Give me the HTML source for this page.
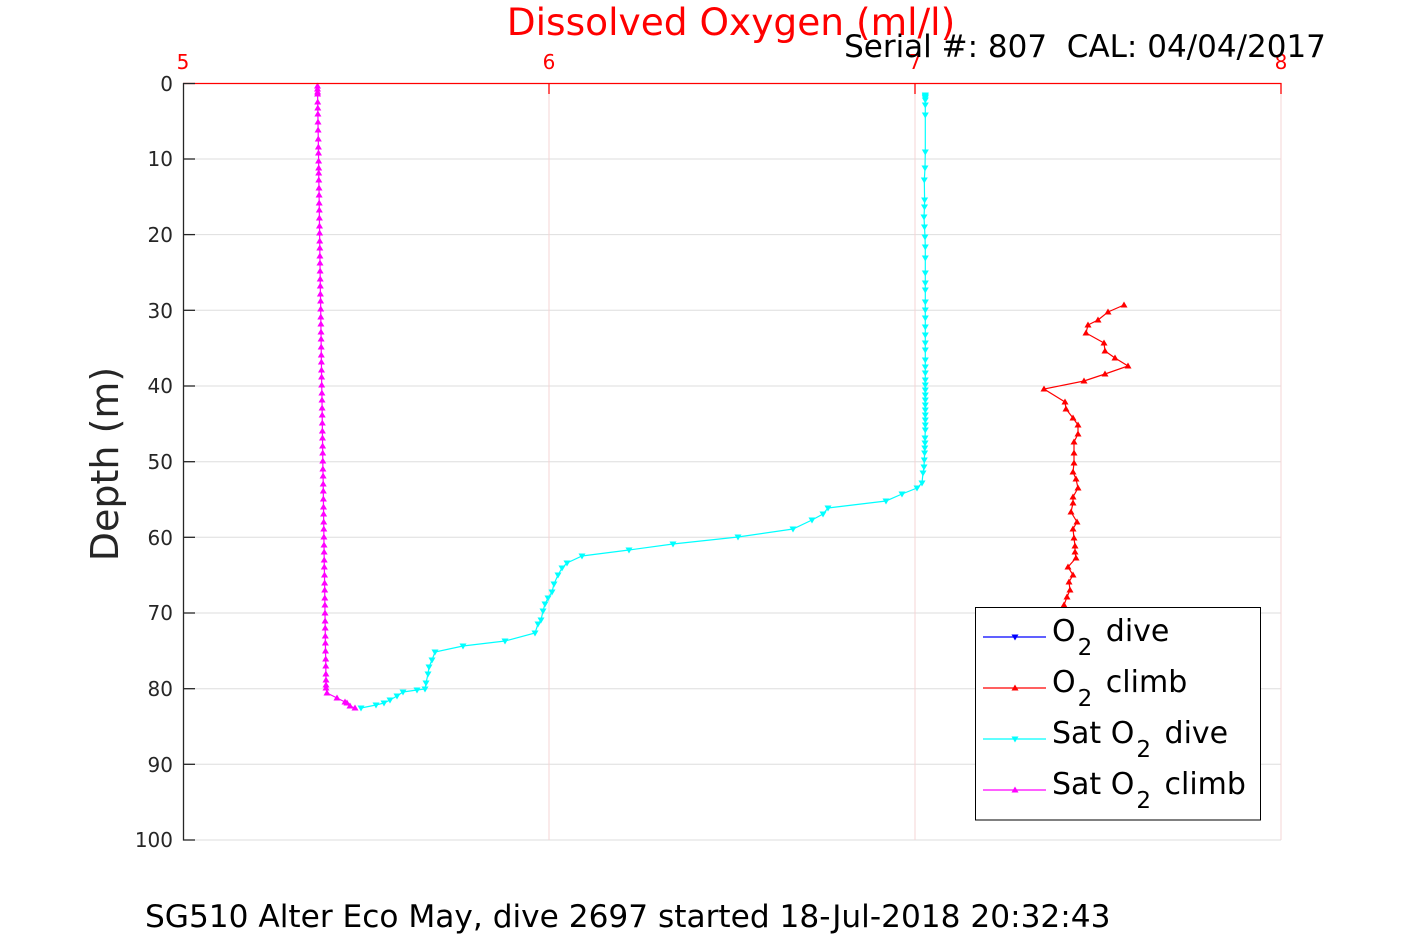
<!DOCTYPE html>
<html><head><meta charset="utf-8"><style>
html,body{margin:0;padding:0;background:#fff;}
svg{display:block;}
text{font-family:"DejaVu Sans","Liberation Sans",sans-serif;}
</style></head><body>
<svg width="1417" height="945" viewBox="0 0 1417 945" xmlns="http://www.w3.org/2000/svg">
<defs>
<marker id="mc" viewBox="-5 -5 10 10" markerWidth="10" markerHeight="10" markerUnits="userSpaceOnUse" refX="0" refY="0"><path d="M-3.5,-2.5 L3.5,-2.5 L0,3.5Z" fill="#00ffff"/></marker>
<marker id="mm" viewBox="-5 -5 10 10" markerWidth="10" markerHeight="10" markerUnits="userSpaceOnUse" refX="0" refY="0"><path d="M-3.5,2.5 L3.5,2.5 L0,-3.5Z" fill="#ff00ff"/></marker>
<marker id="mr" viewBox="-5 -5 10 10" markerWidth="10" markerHeight="10" markerUnits="userSpaceOnUse" refX="0" refY="0"><path d="M-3.5,2.5 L3.5,2.5 L0,-3.5Z" fill="#ff0000"/></marker>
<marker id="mb" viewBox="-5 -5 10 10" markerWidth="10" markerHeight="10" markerUnits="userSpaceOnUse" refX="0" refY="0"><path d="M-3.5,-2.5 L3.5,-2.5 L0,3.5Z" fill="#0000ff"/></marker>
</defs>

<!-- horizontal grid -->
<g stroke="#dedede" stroke-width="1">
<line x1="183" y1="159" x2="1281" y2="159"/>
<line x1="183" y1="234.6" x2="1281" y2="234.6"/>
<line x1="183" y1="310.3" x2="1281" y2="310.3"/>
<line x1="183" y1="386" x2="1281" y2="386"/>
<line x1="183" y1="461.7" x2="1281" y2="461.7"/>
<line x1="183" y1="537.3" x2="1281" y2="537.3"/>
<line x1="183" y1="613" x2="1281" y2="613"/>
<line x1="183" y1="688.7" x2="1281" y2="688.7"/>
<line x1="183" y1="764.3" x2="1281" y2="764.3"/>
<line x1="183" y1="840" x2="1281" y2="840"/>
</g>
<!-- vertical grid (red axis) -->
<g stroke="#f6d4d4" stroke-width="1">
<line x1="549" y1="83" x2="549" y2="840"/>
<line x1="915" y1="83" x2="915" y2="840"/>
<line x1="1281" y1="83" x2="1281" y2="840"/>
</g>

<!-- Sat O2 climb (magenta) -->
<polyline fill="none" stroke="#ff00ff" stroke-width="1.2" marker-start="url(#mm)" marker-mid="url(#mm)" marker-end="url(#mm)" points="317.5,86 317.5,89 317.6,92 317.6,94 317.7,102 317.8,108 317.9,114 318,122 318.1,130 318.3,139 318.4,147 318.5,153 318.6,161 318.7,168 318.7,173 318.8,180 319,188 319.1,195 319.2,203 319.3,210 319.4,218 319.5,226 319.6,233 319.7,241 319.8,248 319.9,256 320,263 320.1,271 320.2,279 320.3,286 320.4,294 320.6,301 320.7,309 320.8,317 320.9,324 321,332 321.1,339 321.2,347 321.3,355 321.4,362 321.5,370 321.6,377 321.7,385 321.9,393 322,400 322.1,408 322.2,415 322.3,423 322.4,431 322.5,438 322.6,446 322.7,453 322.8,461 322.9,469 323.1,476 323.2,484 323.3,491 323.4,499 323.5,507 323.6,514 323.7,522 323.8,529 323.9,537 324,545 324.1,552 324.2,560 324.3,567 324.5,575 324.6,583 324.7,590 324.8,598 324.9,605 325,613 325.1,621 325.2,628 325.3,636 325.4,643 325.5,651 325.7,659 325.8,666 325.9,674 326,680 326,685 326,688 327,693 337,698 345,702 347,703 350,706 355,708"/>

<!-- Sat O2 dive (cyan) -->
<polyline fill="none" stroke="#00ffff" stroke-width="1.2" marker-start="url(#mc)" marker-mid="url(#mc)" marker-end="url(#mc)" points="925.3,95 925.3,96 925.3,97 925.3,98 925.3,100 925.3,105 925.3,115 925.3,152 925,168 924.3,180 924.6,200 924.5,207 924,217 924.5,227 925,237 925.3,247 925.3,258 925.3,273 925.3,283 925.3,290 925.3,302 925.3,310 925.3,318 925.3,327 925.3,335 925.3,343 925.3,350 925.3,360 925.3,367 925.3,373 925.3,380 925.3,385 925.3,390 925.3,395 925.3,400 925.3,405 925.3,410 925.3,415 925.3,420 925.3,425 925.3,430 925,438 925,443 924.8,448 924.6,453 924.3,460 924,467 923,473 922,483 917,488 902,494 886,501 828,508 823,514 812,520 793,529 738,537 673,544 629,550 582,556 567,563 562,568 558,575 554,584 552,592 548,598 545,604 543,611 541,620 538,624 535,633 505,641 463,646 435,652 432,660 429,667 428,674 426,683 425,689 417,690 403,692 397,696 390,700 384,703 376,705 361,708"/>

<!-- O2 climb (red) -->
<polyline fill="none" stroke="#ff0000" stroke-width="1.2" marker-start="url(#mr)" marker-mid="url(#mr)" marker-end="url(#mr)" points="1124,305 1108,312 1098,320 1088,325 1086,333 1104,343 1105,351 1115,358 1128,366 1105,374 1084,381 1044,389 1065,402 1066,409 1073,418 1078,425 1078,434 1074,442 1074,453 1074,463 1073,472 1076,479 1078,488 1073,497 1073,503 1071,512 1077,522 1073,529 1074,538 1075,546 1075,552 1076,558 1068,567 1073,575 1069,582 1070,590 1067,597 1064,605 1062,614 1060,625 1058,640"/>

<!-- top red axis -->
<line x1="183" y1="83.5" x2="1281.5" y2="83.5" stroke="#ff0000" stroke-width="1.3"/>
<g stroke="#ff0000" stroke-width="1.3">
<line x1="549" y1="83" x2="549" y2="94"/>
<line x1="915" y1="83" x2="915" y2="94"/>
<line x1="1281" y1="83" x2="1281" y2="94"/>
</g>
<g fill="#ff0000" font-size="20" text-anchor="middle">
<text x="183" y="69">5</text>
<text x="549" y="69">6</text>
<text x="915" y="69">7</text>
<text x="1281" y="69">8</text>
</g>

<!-- left black axis -->
<line x1="183.5" y1="83" x2="183.5" y2="840.5" stroke="#262626" stroke-width="1.3"/>
<g stroke="#262626" stroke-width="1.3">
<line x1="183" y1="83.5" x2="195" y2="83.5"/>
<line x1="183" y1="159" x2="195" y2="159"/>
<line x1="183" y1="234.6" x2="195" y2="234.6"/>
<line x1="183" y1="310.3" x2="195" y2="310.3"/>
<line x1="183" y1="386" x2="195" y2="386"/>
<line x1="183" y1="461.7" x2="195" y2="461.7"/>
<line x1="183" y1="537.3" x2="195" y2="537.3"/>
<line x1="183" y1="613" x2="195" y2="613"/>
<line x1="183" y1="688.7" x2="195" y2="688.7"/>
<line x1="183" y1="764.3" x2="195" y2="764.3"/>
<line x1="183" y1="840" x2="195" y2="840"/>
</g>
<g fill="#262626" font-size="20" text-anchor="end">
<text x="173" y="91">0</text>
<text x="173" y="166">10</text>
<text x="173" y="242">20</text>
<text x="173" y="318">30</text>
<text x="173" y="393">40</text>
<text x="173" y="469">50</text>
<text x="173" y="545">60</text>
<text x="173" y="620">70</text>
<text x="173" y="696">80</text>
<text x="173" y="772">90</text>
<text x="173" y="847">100</text>
</g>

<!-- y label -->
<text transform="translate(118,464) rotate(-90)" text-anchor="middle" font-size="38" fill="#262626">Depth (m)</text>

<!-- titles -->
<text x="731" y="35" text-anchor="middle" font-size="37.5" fill="#ff0000">Dissolved Oxygen (ml/l)</text>
<text x="1085" y="57" text-anchor="middle" font-size="31" fill="#000">Serial #: 807&#160; CAL: 04/04/2017</text>
<text x="145" y="927" font-size="31.2" fill="#000">SG510 Alter Eco May, dive 2697 started 18-Jul-2018 20:32:43</text>

<!-- legend -->
<rect x="975.5" y="607.5" width="285" height="212.5" fill="#fff" stroke="#000" stroke-width="1"/>
<polyline points="983,637 1015,637 1046,637" fill="none" stroke="#0000ff" stroke-width="1.2" marker-mid="url(#mb)"/>
<polyline points="983,688 1015,688 1046,688" fill="none" stroke="#ff0000" stroke-width="1.2" marker-mid="url(#mr)"/>
<polyline points="983,739 1015,739 1046,739" fill="none" stroke="#00ffff" stroke-width="1.2" marker-mid="url(#mc)"/>
<polyline points="983,790 1015,790 1046,790" fill="none" stroke="#ff00ff" stroke-width="1.2" marker-mid="url(#mm)"/>
<g fill="#000" font-size="30">
<text x="1052" y="641">O<tspan dx="2" dy="14" font-size="23">2</tspan><tspan dx="4" dy="-14"> dive</tspan></text>
<text x="1052" y="692">O<tspan dx="2" dy="14" font-size="23">2</tspan><tspan dx="4" dy="-14"> climb</tspan></text>
<text x="1052" y="743">Sat O<tspan dx="2" dy="14" font-size="23">2</tspan><tspan dx="4" dy="-14"> dive</tspan></text>
<text x="1052" y="794">Sat O<tspan dx="2" dy="14" font-size="23">2</tspan><tspan dx="4" dy="-14"> climb</tspan></text>
</g>
</svg>
</body></html>
